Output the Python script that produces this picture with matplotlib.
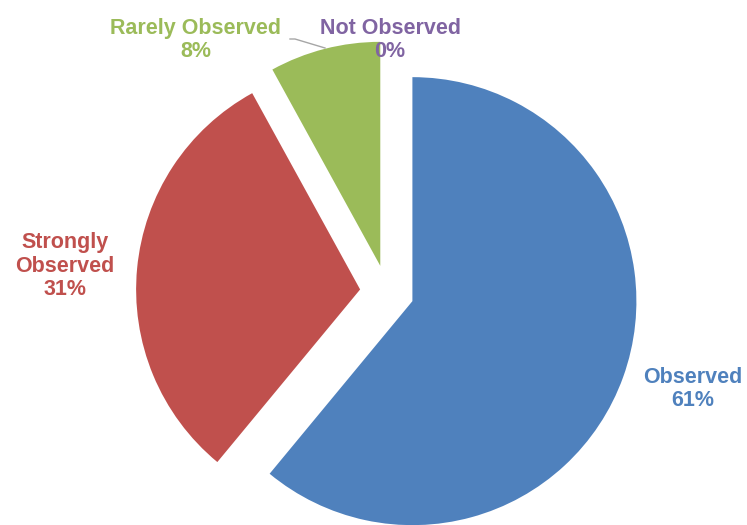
import matplotlib.pyplot as plt

# observation categories and their shares (%)
categories = ["Observed", "Strongly\nObserved", "Rarely Observed", "Not Observed"]
shares = [61, 31, 8, 0]
colors = ["#4F81BD", "#C0504D", "#9BBB59", "#8064A2"]

W, H = 747, 525
# label anchor points in pixel coords (x from left, y from top)
label_pos = [(693, 389), (65, 266), (196, 40), (390, 40)]

fig = plt.figure(figsize=(W / 100, H / 100), dpi=100)
ax = fig.add_axes([0, 0, 1, 1])

cx, cy = 387, H - 292
ax.pie(shares, colors=colors, startangle=90, counterclock=False,
       explode=[27] * len(shares), radius=224, center=(cx, cy),
       wedgeprops=dict(linewidth=0))

for name, val, col, (px, py) in zip(categories, shares, colors, label_pos):
    ax.text(px, H - py, f"{name}\n{val}%", color=col, ha="center", va="center",
            multialignment="center", fontsize=15.5, fontweight="bold",
            family=["Liberation Sans", "DejaVu Sans"], linespacing=1.15)

# leader line for the green slice label
lx = [290, 295, 325]
ly = [39, 39, 48]
ax.plot(lx, [H - v for v in ly], color="#A6A6A6", lw=1)

ax.set_xlim(0, W)
ax.set_ylim(0, H)
ax.set_aspect("equal")
ax.axis("off")

fig.savefig("out.png", dpi=100, facecolor="white")
